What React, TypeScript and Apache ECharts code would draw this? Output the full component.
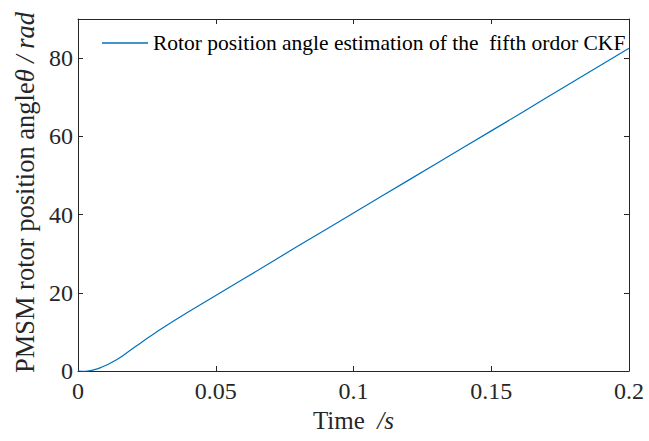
import React, { useEffect, useRef } from "react";
import * as echarts from "echarts";

const timeS = [0, 0.002, 0.004, 0.006, 0.008, 0.01, 0.012, 0.014, 0.016, 0.018, 0.02, 0.022, 0.025, 0.03, 0.04, 0.06, 0.08, 0.1, 0.12, 0.14, 0.16, 0.18, 0.2];
const angleRad = [0, -0.1, 0.05, 0.35, 0.8, 1.4, 2.1, 2.9, 3.8, 4.8, 5.8, 6.8, 8.3, 10.7, 15.1, 23.5, 32.0, 40.4, 48.8, 57.2, 65.6, 74.1, 82.5];
const xTicks = [0, 0.05, 0.1, 0.15, 0.2];
const yTicks = [0, 20, 40, 60, 80];
const seriesName = "Rotor position angle estimation of the  fifth ordor CKF";

const FONT = "Liberation Serif";
const AX = "#262626";

export default function App() {
  const ref = useRef<HTMLDivElement>(null);
  useEffect(() => {
    const chart = echarts.init(ref.current!, null, { renderer: "svg" });
    const data = timeS.map((t, i) => [t, angleRad[i]]);
    const axisCommon = {
      axisLine: { show: true, onZero: false, lineStyle: { color: AX, width: 1 } },
      axisTick: { show: true, inside: true, length: 5, lineStyle: { color: AX } },
      splitLine: { show: false },
    };
    const tickRich = { t: { fontFamily: FONT, fontSize: 24, color: AX, fontWeight: "normal" } };
    chart.setOption({
      animation: false,
      backgroundColor: "#ffffff",
      textStyle: { fontFamily: FONT },
      grid: { left: 78, top: 19, right: 20, bottom: 70, containLabel: false },
      legend: {
        show: true,
        left: 97,
        top: 27,
        itemWidth: 46,
        itemHeight: 1.5,
        icon: "rect",
        itemGap: 6,
        textStyle: { fontFamily: FONT, fontSize: 21.5, color: "#000" },
        data: [{ name: seriesName, icon: "rect" }],
      },
      xAxis: [
        {
          type: "value",
          min: 0,
          max: 0.2,
          interval: 0.05,
          position: "bottom",
          ...axisCommon,
          axisLabel: {
            color: AX,
            fontFamily: FONT,
            fontSize: 24,
            fontWeight: "normal",
            margin: 8,
            rich: tickRich,
            formatter: (v: number) => {
              const m = xTicks.find((t) => Math.abs(t - v) < 1e-9);
              return m === undefined ? "" : "{t|" + String(m) + "}";
            },
          },
          name: "{n|Time  }{i|/s}",
          nameLocation: "middle",
          nameGap: 36,
          nameTextStyle: {
            fontFamily: FONT,
            rich: {
              n: { fontFamily: FONT, fontSize: 25, color: AX },
              i: { fontFamily: FONT, fontSize: 25, color: AX, fontStyle: "italic" },
            },
          },
        },
        {
          type: "value",
          min: 0,
          max: 0.2,
          interval: 0.05,
          position: "top",
          ...axisCommon,
          axisLabel: { show: false },
        },
      ],
      yAxis: [
        {
          type: "value",
          min: 0,
          max: 90,
          interval: 20,
          position: "left",
          ...axisCommon,
          axisLabel: {
            color: AX,
            fontFamily: FONT,
            fontSize: 24,
            fontWeight: "normal",
            margin: 5,
            showMaxLabel: false,
            rich: tickRich,
            formatter: (v: number) => (yTicks.includes(v) ? "{t|" + String(v) + "}" : ""),
          },
          name: "{n|PMSM rotor position angle}{i|θ / rad}",
          nameLocation: "middle",
          nameRotate: 90,
          nameGap: 39,
          nameTextStyle: {
            fontFamily: FONT,
            padding: [0, 0, 0, 5],
            rich: {
              n: { fontFamily: FONT, fontSize: 26.5, color: AX },
              i: { fontFamily: FONT, fontSize: 26.5, color: AX, fontStyle: "italic" },
            },
          },
        },
        {
          type: "value",
          min: 0,
          max: 90,
          interval: 20,
          position: "right",
          ...axisCommon,
          axisLabel: { show: false },
        },
      ],
      series: [
        {
          name: seriesName,
          type: "line",
          xAxisIndex: 0,
          yAxisIndex: 0,
          data,
          smooth: 0.2,
          showSymbol: false,
          symbol: "none",
          lineStyle: { color: "#0072BD", width: 1.2 },
          itemStyle: { color: "#0072BD" },
        },
      ],
    });
    return () => chart.dispose();
  }, []);
  return (
    <div
      ref={ref}
      style={{ position: "fixed", left: 0, top: 0, width: 649, height: 441, background: "#fff" }}
    />
  );
}
